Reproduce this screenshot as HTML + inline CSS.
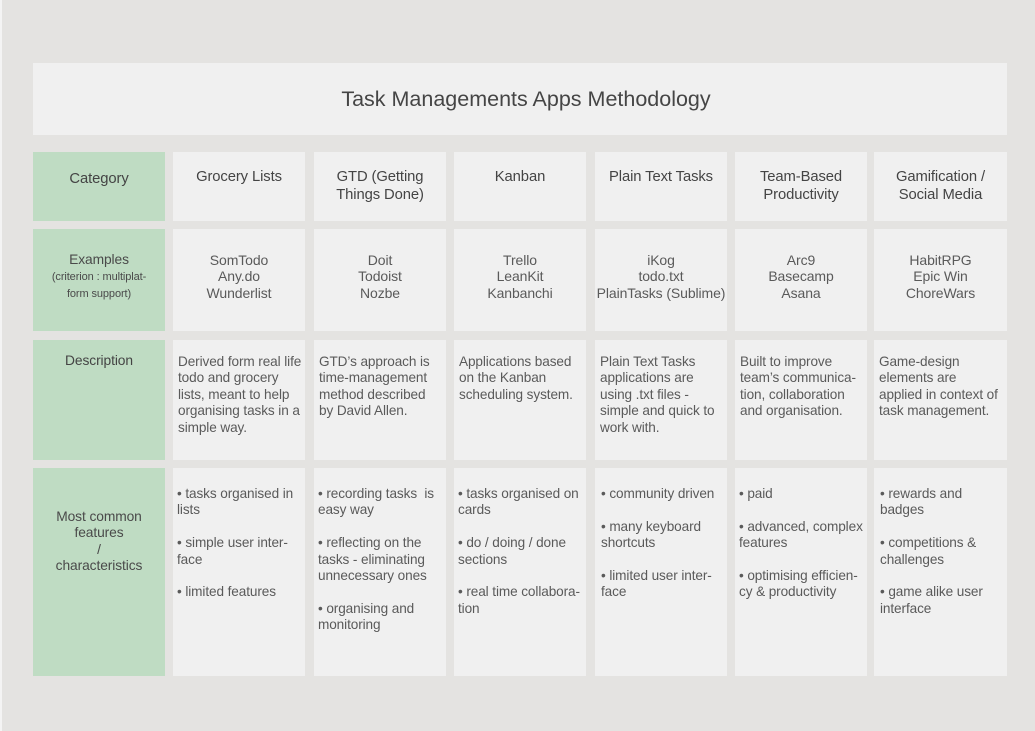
<!DOCTYPE html>
<html><head><meta charset="utf-8"><style>
body{margin:0;width:1035px;height:731px;background:#e4e3e1;position:relative;overflow:hidden;font-family:"Liberation Sans",sans-serif;}
.c{position:absolute;background:#f0f0f0;color:#5a5a5a;font-size:13.6px;line-height:16.4px;white-space:nowrap;box-sizing:border-box;letter-spacing:-0.1px}
.g{background:#bfdcc3;color:#4a4a4a;text-align:center}
.h{text-align:center;font-size:14.8px;line-height:18px;color:#444;padding-top:16px}
.e{text-align:center;font-size:14px;padding-top:23px}
.d{padding:14px 0 0 5px}
.f{padding:18px 0 0 4px}
</style></head><body>
<div style="position:absolute;left:0;top:0;width:2px;height:731px;background:#f4f4f4"></div>
<div class="c" style="left:33px;top:63px;width:974px;height:72px;text-align:center;font-size:21.5px;line-height:72px;color:#454545;letter-spacing:0;padding-left:12px">Task Managements Apps Methodology</div>

<div class="c g h" style="left:33px;top:152px;width:132px;height:69px;padding-top:18px">Category</div>
<div class="c g" style="left:33px;top:229px;width:132px;height:102px;padding-top:23px"><span style="font-size:13.8px">Examples</span><br><span style="font-size:11px;line-height:13px">(criterion : multiplat-<br>form support)</span></div>
<div class="c g h" style="left:33px;top:340px;width:132px;height:120px;padding-top:12px;font-size:13.8px">Description</div>
<div class="c g" style="left:33px;top:468px;width:132px;height:208px;padding-top:41px;font-size:13.8px">Most common<br>features<br>/<br>characteristics</div>

<div class="c h" style="left:173px;top:152px;width:132px;height:69px">Grocery Lists</div>
<div class="c h" style="left:314px;top:152px;width:132px;height:69px">GTD (Getting<br>Things Done)</div>
<div class="c h" style="left:454px;top:152px;width:132px;height:69px">Kanban</div>
<div class="c h" style="left:595px;top:152px;width:132px;height:69px">Plain Text Tasks</div>
<div class="c h" style="left:735px;top:152px;width:132px;height:69px">Team-Based<br>Productivity</div>
<div class="c h" style="left:874px;top:152px;width:133px;height:69px">Gamification /<br>Social Media</div>

<div class="c e" style="left:173px;top:229px;width:132px;height:102px">SomTodo<br>Any.do<br>Wunderlist</div>
<div class="c e" style="left:314px;top:229px;width:132px;height:102px">Doit<br>Todoist<br>Nozbe</div>
<div class="c e" style="left:454px;top:229px;width:132px;height:102px">Trello<br>LeanKit<br>Kanbanchi</div>
<div class="c e" style="left:595px;top:229px;width:132px;height:102px">iKog<br>todo.txt<br>PlainTasks (Sublime)</div>
<div class="c e" style="left:735px;top:229px;width:132px;height:102px">Arc9<br>Basecamp<br>Asana</div>
<div class="c e" style="left:874px;top:229px;width:133px;height:102px">HabitRPG<br>Epic Win<br>ChoreWars</div>

<div class="c d" style="left:173px;top:340px;width:132px;height:120px">Derived form real life<br>todo and grocery<br>lists, meant to help<br>organising tasks in a<br>simple way.</div>
<div class="c d" style="left:314px;top:340px;width:132px;height:120px">GTD’s approach is<br>time-management<br>method described<br>by David Allen.</div>
<div class="c d" style="left:454px;top:340px;width:132px;height:120px">Applications based<br>on the Kanban<br>scheduling system.</div>
<div class="c d" style="left:595px;top:340px;width:132px;height:120px">Plain Text Tasks<br>applications are<br>using .txt files -<br>simple and quick to<br>work with.</div>
<div class="c d" style="left:735px;top:340px;width:132px;height:120px">Built to improve<br>team’s communica-<br>tion, collaboration<br>and organisation.</div>
<div class="c d" style="left:874px;top:340px;width:133px;height:120px">Game-design<br>elements are<br>applied in context of<br>task management.</div>

<div class="c f" style="left:173px;top:468px;width:132px;height:208px">• tasks organised in<br>lists<br><br>• simple user inter-<br>face<br><br>• limited features</div>
<div class="c f" style="left:314px;top:468px;width:132px;height:208px">• recording tasks &nbsp;is<br>easy way<br><br>• reflecting on the<br>tasks - eliminating<br>unnecessary ones<br><br>• organising and<br>monitoring</div>
<div class="c f" style="left:454px;top:468px;width:132px;height:208px">• tasks organised on<br>cards<br><br>• do / doing / done<br>sections<br><br>• real time collabora-<br>tion</div>
<div class="c f" style="left:595px;top:468px;width:132px;height:208px;padding-left:6px">• community driven<br><br>• many keyboard<br>shortcuts<br><br>• limited user inter-<br>face</div>
<div class="c f" style="left:735px;top:468px;width:132px;height:208px">• paid<br><br>• advanced, complex<br>features<br><br>• optimising efficien-<br>cy &amp; productivity</div>
<div class="c f" style="left:874px;top:468px;width:133px;height:208px;padding-left:6px">• rewards and<br>badges<br><br>• competitions &amp;<br>challenges<br><br>• game alike user<br>interface</div>
</body></html>
